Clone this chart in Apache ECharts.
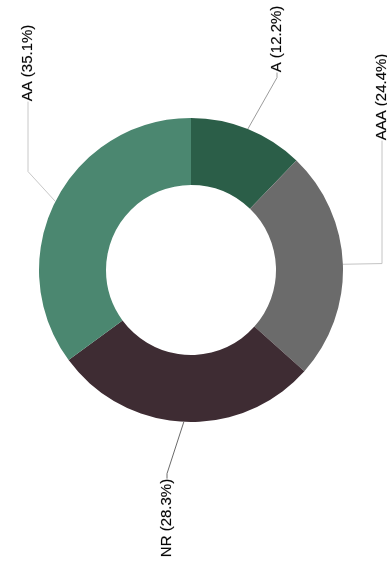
<!DOCTYPE html>
<html>
<head>
<meta charset="utf-8">
<script src="https://cdn.jsdelivr.net/npm/echarts@6/dist/echarts.min.js"></script>
<style>
  html, body { margin: 0; padding: 0; background: #fff; }
  #chart { width: 387px; height: 567px; }
</style>
</head>
<body>
<div id="chart"></div>
<script>
// Rating distribution, clockwise from 12 o'clock
const categories = ['A', 'AAA', 'NR', 'AA'];
const shares = [12.2, 24.4, 28.3, 35.1];

// Slice fills and leader-line tones
const sliceColors = ['#2b5e48', '#6b6b6b', '#3e2c33', '#4b8770'];
const leaderColors = ['#9c9c9c', '#c4c4c4', '#6a6a6a', '#c8c8c8'];

// Upright (rotated) label centres and the final leg of each leader line
const labelCentres = [[277, 39], [382, 97], [167, 518], [28, 63]];
const leaderLeg = [5, 123, 5, 70];

const chart = echarts.init(document.getElementById('chart'), null, { renderer: 'canvas' });

const seriesData = categories.map((name, i) => ({
  name: name,
  value: shares[i],
  itemStyle: { color: sliceColors[i] },
  labelLine: { length2: leaderLeg[i], lineStyle: { color: leaderColors[i] } }
}));

chart.setOption({
  backgroundColor: '#ffffff',
  animation: false,
  series: [{
    type: 'pie',
    center: [191, 270],
    radius: [85, 152],
    startAngle: 90,
    clockwise: true,
    avoidLabelOverlap: false,
    data: seriesData,
    itemStyle: { borderWidth: 0 },
    label: {
      show: true,
      position: 'outside',
      rotate: 90,
      formatter: '{b} ({c}%)',
      fontFamily: 'Liberation Sans, Arial, sans-serif',
      fontSize: 15,
      color: '#050505',
      textBorderColor: 'rgba(0,0,0,0.35)',
      textBorderWidth: 0.4
    },
    labelLine: {
      show: true,
      length: 20,
      smooth: false,
      lineStyle: { width: 1 }
    },
    labelLayout: function (params) {
      const c = labelCentres[params.dataIndex];
      return { x: c[0], y: c[1], align: 'center', verticalAlign: 'middle' };
    },
    emphasis: { disabled: true }
  }]
});
</script>
</body>
</html>
